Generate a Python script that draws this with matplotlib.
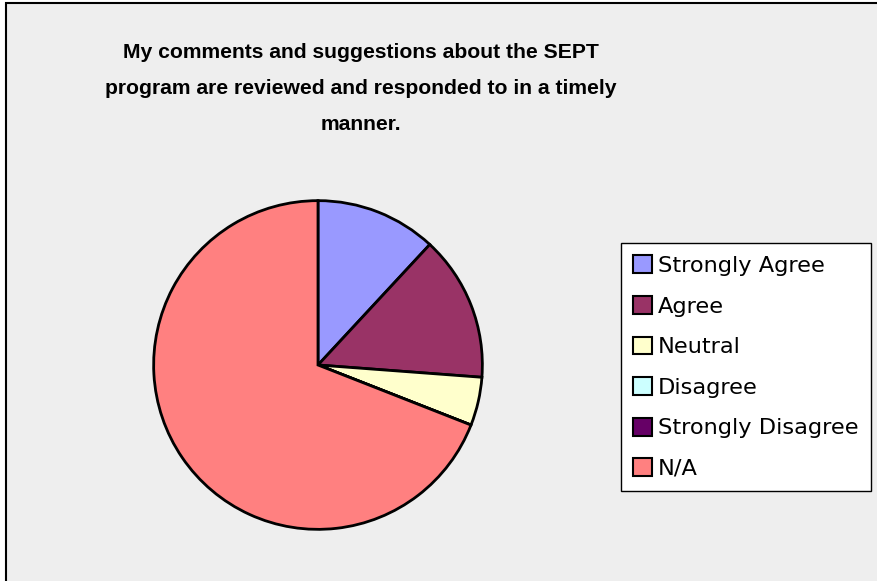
import matplotlib.pyplot as plt
from matplotlib.patches import Rectangle, Patch

labels = ['Strongly Agree', 'Agree', 'Neutral', 'Disagree', 'Strongly Disagree', 'N/A']
counts = [5, 6, 2, 0, 0, 29]
colors = ['#9999FF', '#993366', '#FFFFCC', '#CCFFFF', '#660066', '#FF8080']

title = ('My comments and suggestions about the SEPT\n'
         'program are reviewed and responded to in a timely\n'
         'manner.')

W, H = 878, 581
fig = plt.figure(figsize=(W / 100, H / 100), dpi=100)
fig.patch.set_facecolor('white')

# chart area with a border on the left and top only visible
fig.patches.append(Rectangle((6 / W, -0.05), 1.2, (H - 3) / H + 0.05,
                             transform=fig.transFigure, facecolor='#EEEEEE',
                             edgecolor='black', lw=1.5, zorder=-5))

cx, cy, r = 318, 365, 166
ax = fig.add_axes([(cx - r) / W, (H - cy - r) / H, 2 * r / W, 2 * r / H])
ax.pie(counts, colors=colors, startangle=90, counterclock=False, radius=1,
       wedgeprops=dict(edgecolor='black', linewidth=2))
ax.set_xlim(-1.01, 1.01)
ax.set_ylim(-1.01, 1.01)
ax.set_aspect('auto')
ax.axis('off')

fig.text(361 / W, 1 - 43 / H, title, ha='center', va='top', fontsize=15.2,
         fontweight='bold', linespacing=2.13, family='Liberation Sans')

handles = [Patch(facecolor=c, edgecolor='black', lw=1.5) for c in colors]
leg = fig.legend(handles, labels, loc='upper left',
                 bbox_to_anchor=(621 / W, 1 - 243 / H), fontsize=16.2,
                 frameon=True, fancybox=False, framealpha=1,
                 handlelength=0.85, handleheight=0.85, handletextpad=0.25,
                 labelspacing=0.88, borderpad=0.55, borderaxespad=0)
leg.get_frame().set_edgecolor('black')
leg.get_frame().set_linewidth(1)
leg.get_frame().set_facecolor('white')

fig.savefig('out.png', dpi=100)
